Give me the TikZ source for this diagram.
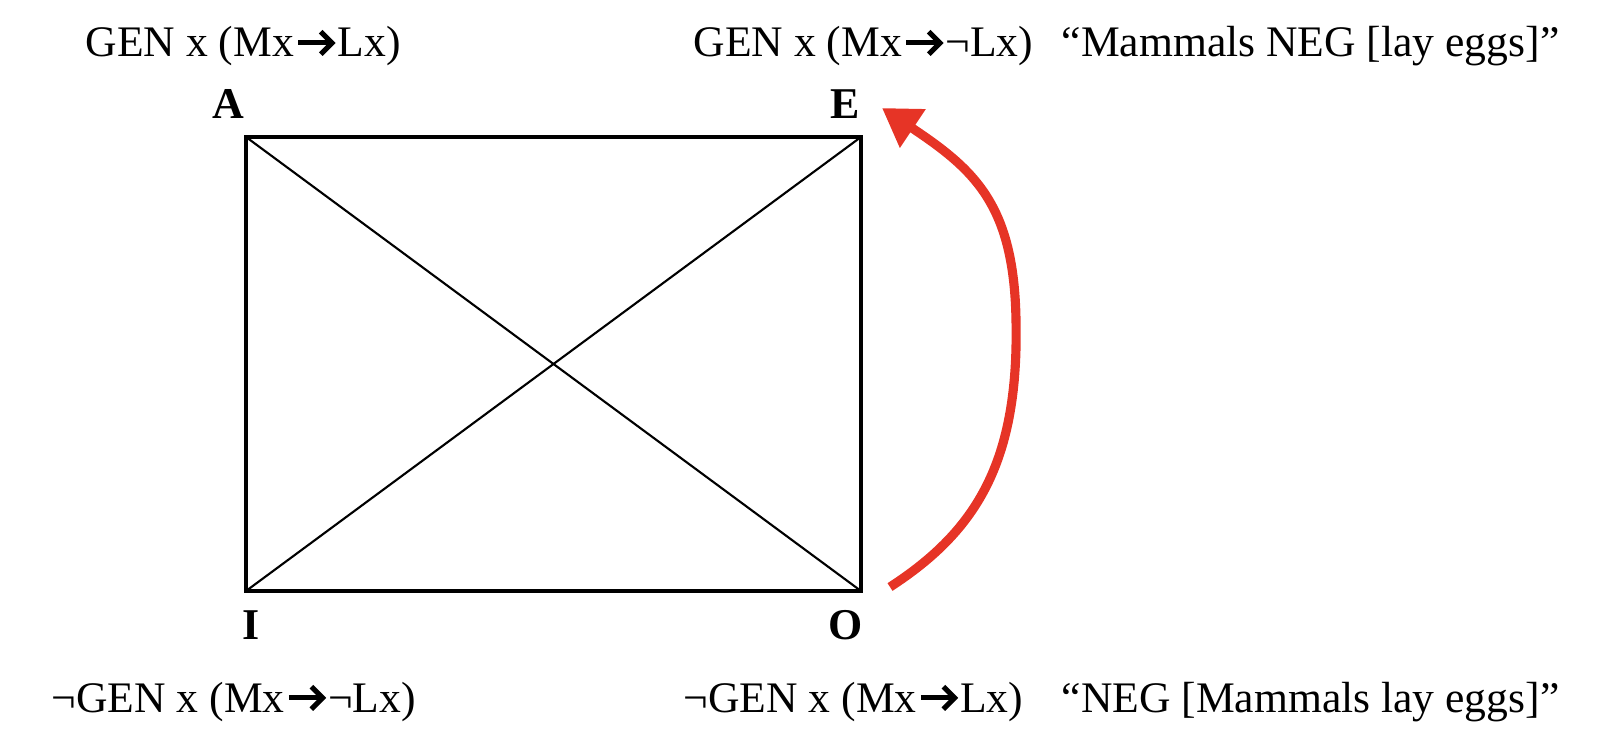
\documentclass[tikz,border=0pt]{standalone}
\usepackage{fontspec}
\setmainfont{Liberation Serif}
\usetikzlibrary{arrows.meta}
\definecolor{arrowred}{RGB}{230,52,38}
\newcommand{\boldarr}{\tikz[baseline=0pt,x=1pt,y=1pt]{\path (0,0) rectangle (12.4,1);\draw[line width=1.45pt] (1.2,4.0) -- (10.4,4.0);\draw[line width=1.45pt, line join=miter] (7.6,7.2) -- (10.8,4.0) -- (7.6,0.8);}}
\tikzset{
  formula/.style={anchor=base west, inner sep=0pt, font=\fontsize{12.4}{14}\selectfont},
  corner/.style={anchor=base, inner sep=0pt, font=\fontsize{12.5}{14}\selectfont\bfseries},
  edge/.style={line width=0.9pt},
  diag/.style={line width=0.6pt},
  redarrow/.style={draw=arrowred, line width=2.6pt, -{Triangle[length=0.37cm,width=0.44cm]}}
}
\begin{document}
\begin{tikzpicture}[x=0.01cm,y=-0.01cm]
\useasboundingbox (0,0) rectangle (1600,737);
% square corners
\coordinate (cA) at (246,137);
\coordinate (cE) at (861,137);
\coordinate (cI) at (246,591);
\coordinate (cO) at (861,591);
\draw[edge] (cA) -- (cE) -- (cO) -- (cI) -- cycle;
\draw[diag] (cA) -- (cO);
\draw[diag] (cE) -- (cI);
% corner labels
\node[corner] (A) at (228,119) {A};
\node[corner] (E) at (845,119) {E};
\node[corner] (I) at (251,639) {I};
\node[corner] (O) at (846,639) {O};
% formulas
\node[formula] (fA) at (85,57) {GEN x (Mx\boldarr Lx)};
\node[formula] (fE) at (693,57) {GEN x (Mx\boldarr¬Lx)};
\node[formula] (qE) at (1061,57) {“Mammals NEG [lay eggs]”};
\node[formula] (fI) at (51,712) {¬GEN x (Mx\boldarr¬Lx)};
\node[formula] (fO) at (683,712) {¬GEN x (Mx\boldarr Lx)};
\node[formula] (qO) at (1061,712) {“NEG [Mammals lay eggs]”};
% red arrow
\coordinate (rs) at (890,587);
\coordinate (rm) at (1016,320);
\coordinate (re) at (882,108);
\draw[redarrow] (rs) .. controls (978,530) and (1019,460) .. (rm)
  .. controls (1014,205) and (975,170) .. (re);
\end{tikzpicture}
\end{document}
